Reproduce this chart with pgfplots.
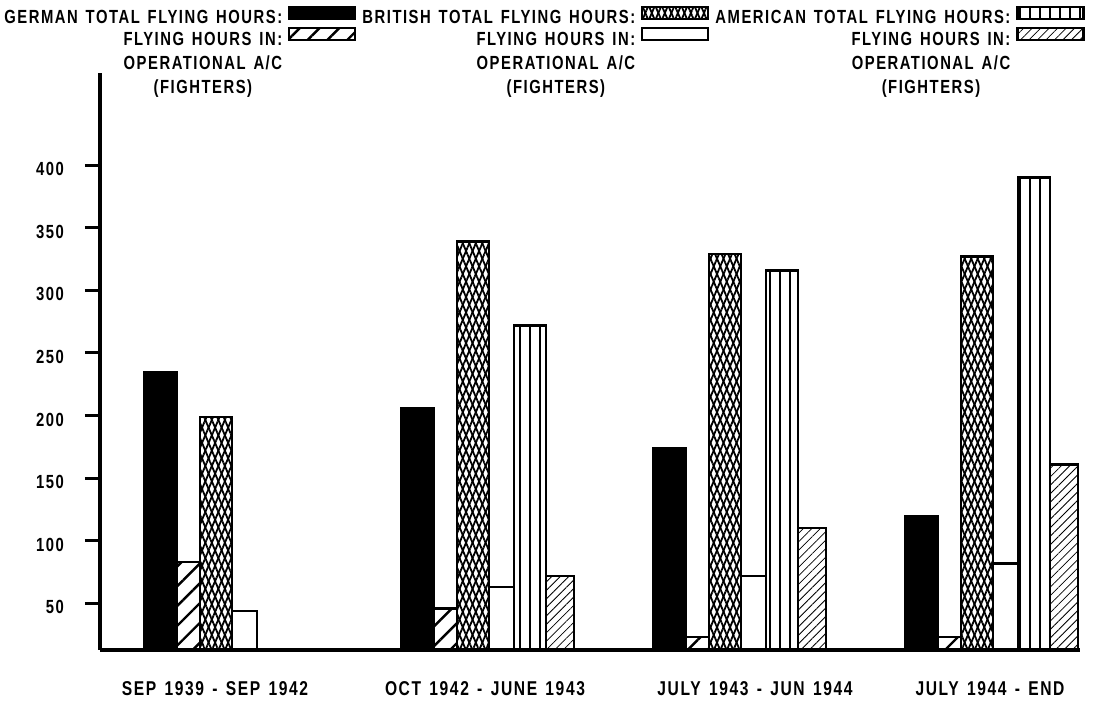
\documentclass[border=0pt]{standalone}
\usepackage{pgfplots}
\pgfplotsset{compat=1.18}
\usetikzlibrary{patterns,patterns.meta}
\usepackage{fontspec}
\setmainfont{Liberation Sans}
\newfontfamily\cf[FakeStretch=0.78,LetterSpace=8,WordSpace=1.4]{Liberation Sans}
\pgfplotsset{mylegimg/.style={legend image code/.code={\draw[##1,line width=1.1pt] (0pt,-0.5pt) rectangle (33pt,5.5pt);}}}
\renewcommand{\arraystretch}{1.1}
\begin{document}
\begin{tikzpicture}
\begin{axis}[
  scale only axis, width=490pt, height=288.5pt,
  xmin=100, xmax=1080, ymin=12.8, ymax=473.6,
  axis lines*=left, axis line style={line width=2.2pt},
  ytick={50,100,150,200,250,300,350,400},
  xtick={215,485,755,990},
  xticklabels={SEP 1939 - SEP 1942, OCT 1942 - JUNE 1943, JULY 1943 - JUN 1944, JULY 1944 - END},
  x tick style={draw=none},
  y tick style={line width=1.5pt, black},
  tick align=outside, major tick length=7.5pt,
  ticklabel style={font=\cf\bfseries\fontsize{9.5}{11}\selectfont},
  xticklabel style={font=\cf\bfseries\fontsize{10}{12}\selectfont, yshift=-4.5pt},
  /pgf/number format/assume math mode=true,
  yticklabel style={yshift=-2pt, xshift=-7pt},
  ybar,
  axis on top,
  legend columns=3, legend plot pos=right, legend cell align=right,
  legend style={at={(-0.1,1.117)}, anchor=north west, draw=none, fill=none, inner sep=0pt,
    /tikz/column sep=2pt, /tikz/row sep=-0.8pt, font=\cf\bfseries\fontsize{9.5}{11}\selectfont,
    nodes={inner sep=1pt}},
]
% German total
\addplot[ybar, bar shift=0pt, bar width=33, fill=black, draw=black, line width=1pt, mylegimg]
  coordinates {(160.5,235) (417.5,206) (669.5,174) (921.5,120)};
\addlegendentry{GERMAN TOTAL FLYING HOURS:}
% British total
\addplot[ybar, bar shift=0pt, bar width=32, draw=black, line width=1.3pt,
  pattern={Lines[angle=67,distance=3pt,line width=0.9pt]},
  postaction={pattern={Lines[angle=-67,distance=3pt,line width=0.9pt]}}, mylegimg]
  coordinates {(216,199) (473,339) (725,329) (977,327)};
\addlegendentry{BRITISH TOTAL FLYING HOURS:}
% American total
\addplot[ybar, bar shift=0pt, bar width=32, draw=black, line width=1.3pt,
  pattern={Lines[angle=90,distance=5pt,line width=0.6pt]}, mylegimg]
  coordinates {(530,272) (782,316) (1034,390)};
\addlegendentry{AMERICAN TOTAL FLYING HOURS:}
% German operational
\addplot[ybar, bar shift=0pt, bar width=23, draw=black, line width=1.2pt,
  pattern={Lines[angle=45,distance=7pt,line width=1.2pt]}, mylegimg]
  coordinates {(188.5,83) (445.5,46) (697.5,23) (949.5,23)};
\addlegendentry{\begin{tabular}[t]{@{}c@{}}FLYING HOURS IN:\\OPERATIONAL A/C\\(FIGHTERS)\end{tabular}}
% British operational
\addplot[ybar, bar shift=0pt, bar width=25, fill=white, draw=black, line width=1.2pt, mylegimg]
  coordinates {(244.5,44) (501.5,63) (753.5,72) (1005.5,82)};
\addlegendentry{\begin{tabular}[t]{@{}c@{}}FLYING HOURS IN:\\OPERATIONAL A/C\\(FIGHTERS)\end{tabular}}
% American operational
\addplot[ybar, bar shift=0pt, bar width=28, draw=black, line width=1.2pt,
  pattern={Lines[angle=45,distance=3pt,line width=0.4pt]}, mylegimg]
  coordinates {(560,72) (812,110) (1064,161)};
\addlegendentry{\begin{tabular}[t]{@{}c@{}}FLYING HOURS IN:\\OPERATIONAL A/C\\(FIGHTERS)\end{tabular}}
\end{axis}
\path[use as bounding box] (-50pt,-27pt) rectangle (498pt,325pt);
\end{tikzpicture}
\end{document}
